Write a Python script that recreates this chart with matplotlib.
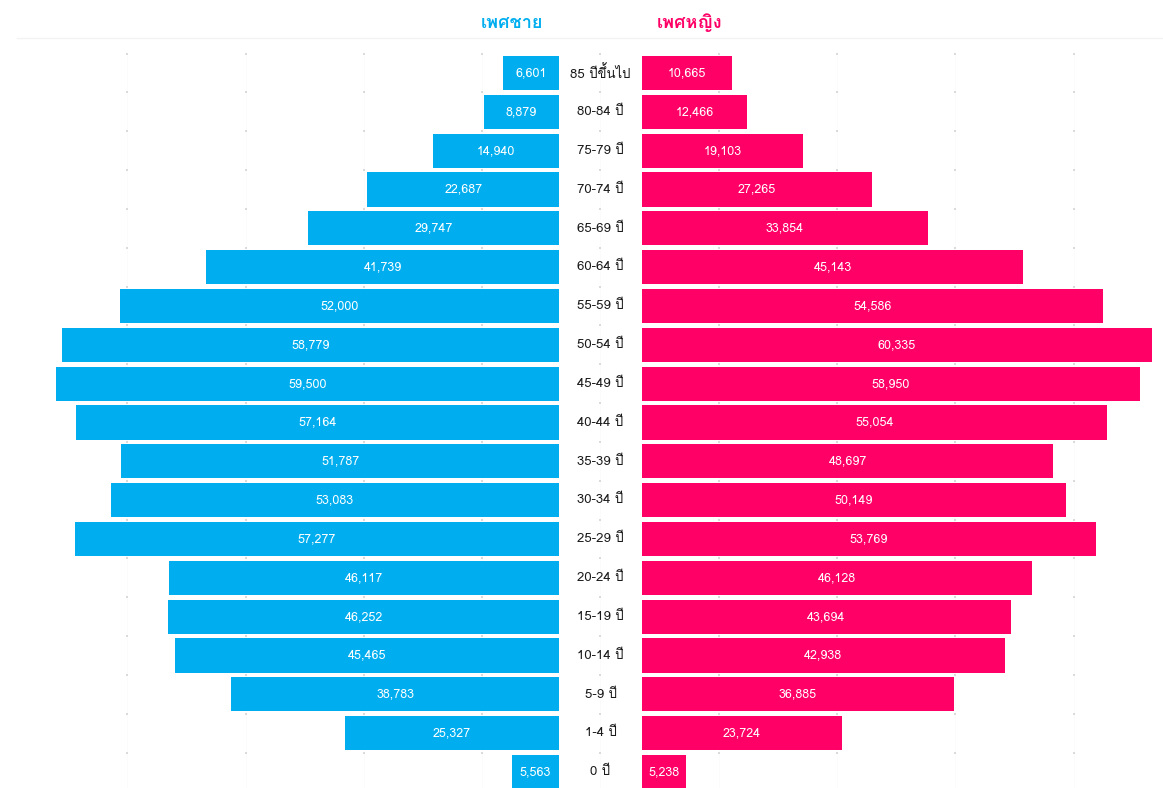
import numpy as np
import matplotlib
matplotlib.use("Agg")
import matplotlib.pyplot as plt
from matplotlib import font_manager
from matplotlib.ft2font import FT2Font

# กลุ่มอายุ (บนลงล่าง)
age_groups = ["85 ปีขึ้นไป", "80-84 ปี", "75-79 ปี", "70-74 ปี", "65-69 ปี",
              "60-64 ปี", "55-59 ปี", "50-54 ปี", "45-49 ปี", "40-44 ปี",
              "35-39 ปี", "30-34 ปี", "25-29 ปี", "20-24 ปี", "15-19 ปี",
              "10-14 ปี", "5-9 ปี", "1-4 ปี", "0 ปี"]
male = [6601, 8879, 14940, 22687, 29747, 41739, 52000, 58779, 59500, 57164,
        51787, 53083, 57277, 46117, 46252, 45465, 38783, 25327, 5563]
female = [10665, 12466, 19103, 27265, 33854, 45143, 54586, 60335, 58950, 55054,
          48697, 50149, 53769, 46128, 43694, 42938, 36885, 23724, 5238]
title_male = "เพศชาย"
title_female = "เพศหญิง"


# หา font ที่มีอักษรไทย
def find_thai_font():
    for f in font_manager.fontManager.ttflist:
        try:
            if 0x0E1E in FT2Font(f.fname).get_charmap():
                return f.name
        except Exception:
            pass
    return "DejaVu Sans"


thai = find_thai_font()
plt.rcParams["font.family"] = [thai, "DejaVu Sans"]

BLUE = "#00AEEF"
PINK = "#FF0066"
GAP = 4900  # ครึ่งหนึ่งของช่องว่างตรงกลาง

fig = plt.figure(figsize=(11.63, 7.88), dpi=100)
ax = fig.add_axes([0, 0, 1, 1])
ax.set_xlim(-71065, 66568)
ax.set_ylim(18.41, -1.88)
ax.axis("off")

y = np.arange(len(age_groups))

# เส้นกริดจางๆ (เห็นแค่เป็นจุดระหว่างแถว)
for gx in np.arange(-56000, 56001, 14000):
    ax.plot([gx, gx], [-0.5, len(y) + 0.5], color="#fbfbfb", lw=0.6, zorder=0)
    ax.scatter(np.full(len(y) + 1, gx), np.arange(-0.5, len(y)), marker="s",
               s=2, color="#dadada", lw=0, zorder=1)
ax.plot([-69000, 66568], [-0.9, -0.9], color="#f3f3f3", lw=1, zorder=0)

ax.barh(y, male, left=[-GAP - v for v in male], height=0.88, color=BLUE, zorder=2)
ax.barh(y, female, left=GAP, height=0.88, color=PINK, zorder=2)

for i in range(len(age_groups)):
    ax.text(-GAP - male[i] / 2, i, f"{male[i]:,}", color="white",
            ha="center", va="center", fontsize=9, zorder=3)
    ax.text(GAP + female[i] / 2, i, f"{female[i]:,}", color="white",
            ha="center", va="center", fontsize=9, zorder=3)
    ax.text(0, i, age_groups[i], color="#1a1a1a", ha="center", va="center",
            fontsize=9.5, zorder=3)

ax.text(-10500, -1.3, title_male, color=BLUE, ha="center", va="center",
        fontsize=13, fontweight="bold")
ax.text(10500, -1.3, title_female, color=PINK, ha="center", va="center",
        fontsize=13, fontweight="bold")

fig.savefig("out.png", dpi=100)
